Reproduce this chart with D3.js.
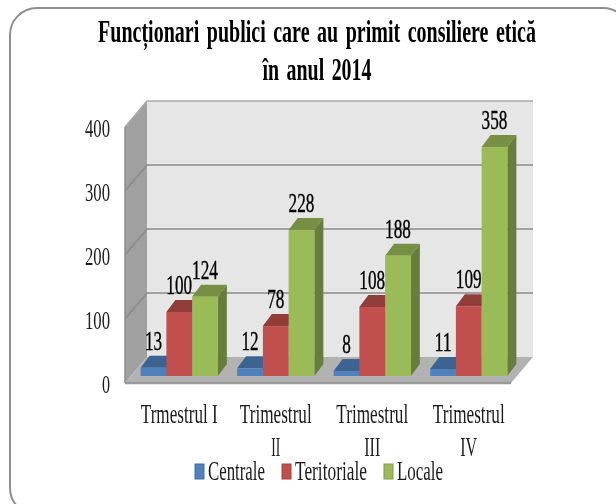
<!DOCTYPE html>
<html>
<head>
<meta charset="utf-8">
<script src="https://cdnjs.cloudflare.com/ajax/libs/d3/7.8.5/d3.min.js"></script>
<style>
  html, body { margin: 0; padding: 0; background: #fff; overflow: hidden; }
  svg { display: block; }
  text { font-family: "Liberation Serif", serif; fill: #1a1a1a; }
</style>
</head>
<body>
<svg width="616" height="504"></svg>
<script>
const categories = ["Trmestrul I", "Trimestrul II", "Trimestrul III", "Trimestrul IV"];
const centrale = [13, 12, 8, 11];
const teritoriale = [100, 78, 108, 109];
const locale = [124, 228, 188, 358];
const seriesNames = ["Centrale", "Teritoriale", "Locale"];
const seriesValues = [centrale, teritoriale, locale];
const front = ["#4f81bd", "#c0504d", "#9bbb59"];
const top3d = ["#3c6391", "#933c3a", "#768f44"];
const side = ["#35577f", "#813533", "#667d3b"];
const yTicks = [0, 100, 200, 300, 400];

var svg = d3.select("svg");

var defs = svg.append("defs");
defs.append("filter").attr("id", "soft")
  .attr("filterUnits", "userSpaceOnUse")
  .attr("x", 0).attr("y", 0).attr("width", 616).attr("height", 504)
  .append("feGaussianBlur").attr("stdDeviation", 0.4);

// plot box
var left = 125, right = 511, floorY = 383, topY = 127;
var wallDx = 22, wallDy = -26;   // back wall offset
var barDy = -7, depthX = 9, depthY = -12;

var y = d3.scaleLinear().domain([0, 400]).range([floorY, topY]);
var x = d3.scaleBand().domain(categories).range([left + 6, right + 6]).paddingInner(0.2).paddingOuter(0.1);
var xs = d3.scaleBand().domain(d3.range(3)).range([0, x.bandwidth()]);

var root = svg.append("g").attr("filter", "url(#soft)");

// frame runs off the right and bottom of the picture
root.append("rect")
  .attr("x", 10).attr("y", 8).attr("width", 620).attr("height", 507)
  .attr("rx", 27).attr("fill", "#fff").attr("stroke", "#8f8f8f").attr("stroke-width", 2);

// the source picture was squashed sideways, so text is narrowed to a given width
function squeezed(parent, str, px, py, len, size, anchor) {
  var t = parent.append("text")
    .attr("text-anchor", anchor || "middle")
    .attr("font-size", size)
    .text(str);
  var natural = t.node().getComputedTextLength();
  t.attr("transform", `translate(${px},${py}) scale(${len / natural},1)`);
  return t;
}

// title
function titleLine(str, py, len) {
  var t = root.append("text")
    .attr("text-anchor", "middle").attr("font-size", 32).attr("font-weight", "bold")
    .style("fill", "#000").style("word-spacing", "4px").text(str);
  t.attr("transform", `translate(317,${py}) scale(${len / t.node().getComputedTextLength()},1)`);
}
titleLine("Funcționari publici care au primit consiliere etică", 42, 438);
titleLine("în anul 2014", 80, 109);

// walls
root.append("path")
  .attr("d", `M${left},${y(400)}L${left + wallDx},${y(400) + wallDy}V${y(0) + wallDy}L${left},${y(0)}Z`)
  .attr("fill", "#a0a0a0");
root.append("rect")
  .attr("x", left + wallDx).attr("y", y(400) + wallDy)
  .attr("width", right - left).attr("height", y(0) - y(400))
  .attr("fill", "#e6e6e6");
root.append("path")
  .attr("d", `M${left},${y(0)}L${left + wallDx},${y(0) + wallDy}H${right + wallDx}L${right},${y(0)}Z`)
  .attr("fill", "#b2b2b2");
root.append("path")
  .attr("d", `M${left},${y(0)}H${right}`)
  .attr("stroke", "#999").attr("stroke-width", 2.5);

// gridlines
root.selectAll(".grid").data(yTicks.slice(1)).enter().append("path")
  .attr("class", "grid")
  .attr("fill", "none")
  .attr("stroke", function (d) { return d === 400 ? "#aaa" : "#8c8c8c"; })
  .attr("stroke-width", 1.6)
  .attr("d", function (d) {
    return `M${left},${y(d)}L${left + wallDx},${y(d) + wallDy}H${right + wallDx}`;
  });
root.append("path")
  .attr("d", `M${left},${y(400)}V${y(0)}`)
  .attr("stroke", "#8c8c8c").attr("stroke-width", 1.5);

// y axis labels
yTicks.forEach(function (d) {
  squeezed(root, d, 110, y(d) + 10, d === 0 ? 8 : 25, 26, "end");
});

// bars, one group per quarter
var groups = root.selectAll(".quarter").data(categories).enter().append("g")
  .attr("class", "quarter")
  .attr("transform", function (d) { return `translate(${x(d)},0)`; });

groups.each(function (cat, ci) {
  var g = d3.select(this);
  seriesValues.forEach(function (vals, si) {
    var v = vals[ci];
    var bx = xs(si), w = xs.bandwidth();
    var by = y(v) + barDy, base = y(0) + barDy;
    g.append("path")
      .attr("d", `M${bx},${by}l${depthX},${depthY}h${w}l${-depthX},${-depthY}Z`)
      .attr("fill", top3d[si]);
    g.append("path")
      .attr("d", `M${bx + w},${by}l${depthX},${depthY}V${base + depthY}l${-depthX},${-depthY}Z`)
      .attr("fill", side[si]);
    g.append("rect")
      .attr("x", bx).attr("y", by).attr("width", w).attr("height", base - by)
      .attr("fill", front[si]);
  });
  seriesValues.forEach(function (vals, si) {
    var v = vals[ci];
    squeezed(g, v, xs(si) + xs.bandwidth() / 2, y(v) + barDy + depthY - 6, String(v).length * 8.6, 27)
      .style("fill", "#000")
      .attr("stroke", "#000")
      .attr("stroke-width", 0.4);
  });
});

// category labels
var catLines = [["Trmestrul I"], ["Trimestrul", "II"], ["Trimestrul", "III"], ["Trimestrul", "IV"]];
var catWidths = { "Trmestrul I": 77, "Trimestrul": 72, "II": 9, "III": 16, "IV": 17 };
catLines.forEach(function (lines, i) {
  lines.forEach(function (s, k) {
    squeezed(root, s, x(categories[i]) + x.bandwidth() / 2, 423 + k * 33, catWidths[s], 27);
  });
});

// legend
var legX = [195, 282, 384], legLen = [57, 72, 46];
seriesNames.forEach(function (s, i) {
  root.append("rect")
    .attr("x", legX[i]).attr("y", 464).attr("width", 9).attr("height", 15)
    .attr("fill", front[i]).attr("stroke", d3.color(front[i]).darker(0.5)).attr("stroke-width", 1);
  squeezed(root, s, legX[i] + 13, 480, legLen[i], 27, "start");
});
</script>
</body>
</html>
